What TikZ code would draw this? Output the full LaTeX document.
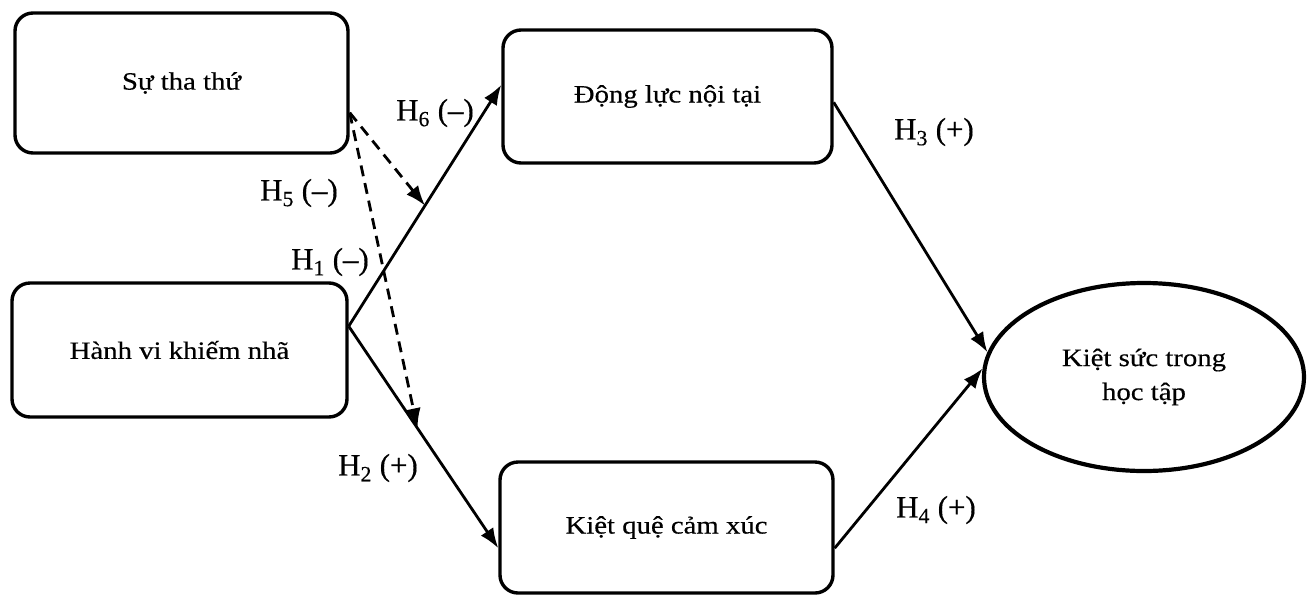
\documentclass[tikz,border=0pt]{standalone}
\usepackage{fontspec}
\setmainfont{Liberation Serif}
\newfontfamily\boxfont[FakeStretch=1.15,FakeBold=0.4]{Liberation Serif}
\newfontfamily\labfont[FakeBold=0.4]{Liberation Serif}
\usetikzlibrary{arrows.meta,shapes.geometric}
\begin{document}
\begin{tikzpicture}[x=1pt,y=-1pt,
  box/.style={draw,line width=3.4pt,rounded corners=18pt,align=center,
    font=\boxfont\fontsize{25}{34}\selectfont,inner sep=0pt},
  ell/.style={draw,ellipse,line width=4.2pt,align=center,inner sep=0pt,
    font=\boxfont\fontsize{25}{34}\selectfont},
  conn/.style={line width=2.8pt,-{Latex[length=20pt,width=15pt]}},
  dconn/.style={line width=2.8pt,dash pattern=on 11pt off 7pt,-{Latex[length=20pt,width=15pt]}},
  lab/.style={font=\labfont\fontsize{31}{36}\selectfont,inner sep=0pt}]
\useasboundingbox (0,0) rectangle (1307,598);
\node[box,minimum width=333pt,minimum height=140pt] (tha) at (181.5,83) {Sự tha thứ};
\node[box,minimum width=335pt,minimum height=134pt] (hanh) at (179.5,350) {Hành vi khiếm nhã};
\node[box,minimum width=329pt,minimum height=133pt] (dong) at (667.5,96.5) {Động lực nội tại};
\node[box,minimum width=333pt,minimum height=131pt] (kiet) at (666.5,527.5) {Kiệt quệ cảm xúc};
\node[ell,minimum width=320pt,minimum height=188pt] (ks) at (1144,377) {Kiệt sức trong\\học tập};
% main paths
\draw[conn] (hanh.8) -- (dong.176) coordinate[pos=0.5] (m1);
\draw[conn] (hanh.8) -- (kiet.187) coordinate[pos=0.46] (m2);
\draw[conn] (dong.358) -- (ks.171);
\draw[conn] (kiet.353) -- (ks.177);
% moderation
\draw[dconn] (tha.-10) -- (m1);
\draw[dconn] (tha.-10) -- (m2);
% labels
\node[lab] (l6) at (435,113) {H\textsubscript{6} (–)};
\node[lab] (l5) at (299,193) {H\textsubscript{5} (–)};
\node[lab] (l1) at (330,262) {H\textsubscript{1} (–)};
\node[lab] (l2) at (378,468) {H\textsubscript{2} (+)};
\node[lab] (l3) at (934,132) {H\textsubscript{3} (+)};
\node[lab] (l4) at (936,510) {H\textsubscript{4} (+)};
\end{tikzpicture}
\end{document}
